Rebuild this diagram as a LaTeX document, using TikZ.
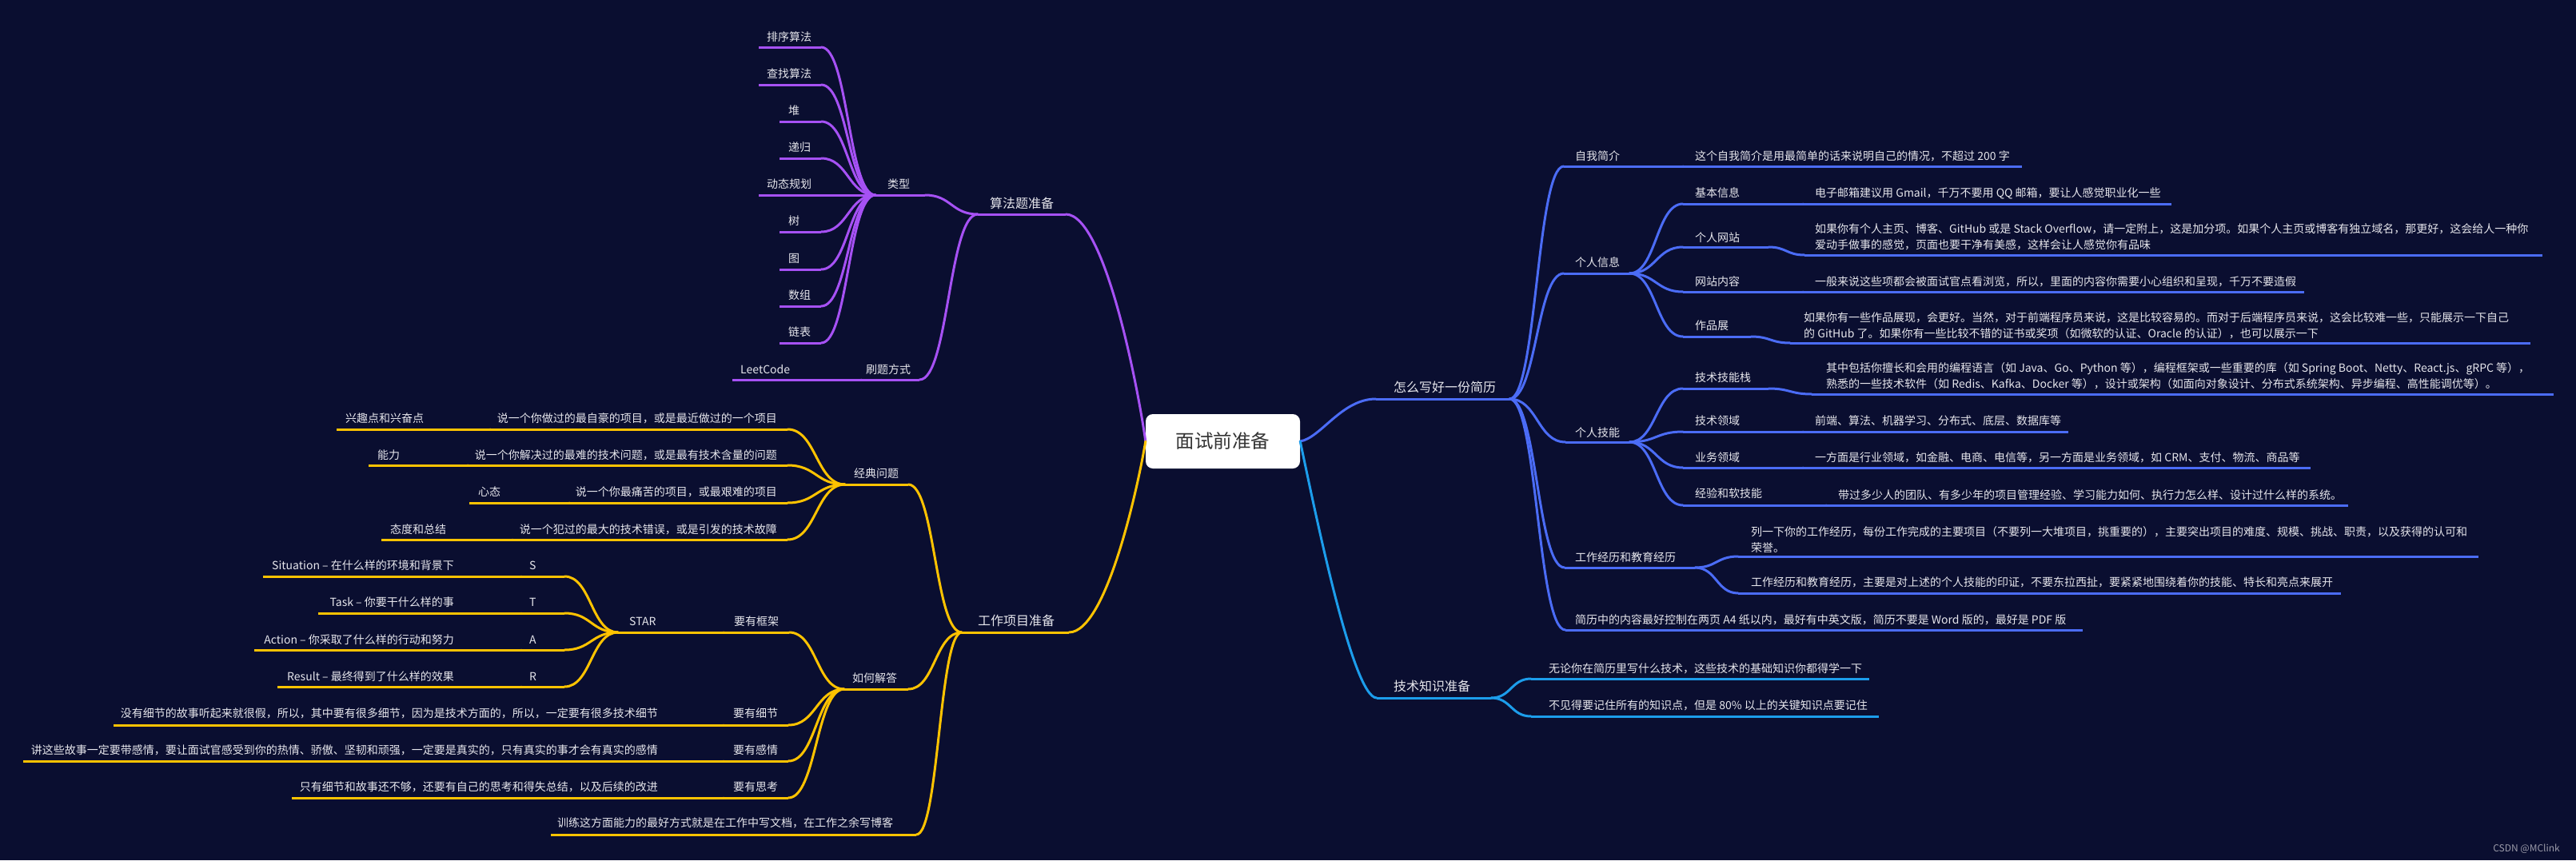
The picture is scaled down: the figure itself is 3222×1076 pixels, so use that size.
\documentclass[tikz,border=0pt]{standalone}
\usepackage{fontspec}
\setmainfont{Noto Sans CJK SC}
\usetikzlibrary{calc}
\definecolor{bgc}{HTML}{0A0E30}
\definecolor{cP}{HTML}{A651F4}
\definecolor{cY}{HTML}{FFC300}
\definecolor{cB}{HTML}{4B6CF6}
\definecolor{cC}{HTML}{1C9DEB}
\definecolor{tx}{HTML}{E6E6EC}
\definecolor{rt}{HTML}{333333}
\definecolor{wm}{HTML}{9A9AA8}
\newcommand\fsa{\fontsize{14}{20}\selectfont}
\newcommand\fsb{\fontsize{16}{20}\selectfont}
\newcommand\twol[2]{\vtop{\hbox{#1}\hbox{#2}}}
% name, colour, x1, x2, yline, xtext, ybase, text
\newcommand\TopicA[8]{%
  \node[ul,fill=#2,minimum width={(#4)-(#3)}] (#1) at ({((#3)+(#4))/2},#5) {};
  \node[lbl] (#1-t) at (#6,#7) {#8};}
\newcommand\TopicE[8]{%
  \node[ul,fill=#2,minimum width={(#4)-(#3)}] (#1) at ({((#3)+(#4))/2},#5) {};
  \node[lbl,anchor=base east] (#1-t) at (#6,#7) {#8};}
\tikzset{
  ul/.style={rectangle,inner sep=0pt,outer sep=0pt,minimum height=3pt,draw=none},
  lbl/.style={anchor=base west,inner sep=0pt,text=tx,font=\fsa},
  ln/.style={line width=3pt,line cap=round},
  cv/.style={to path={let \p1=(\tikztostart),\p2=(\tikztotarget) in
     .. controls ({0.5*\x1+0.5*\x2},\y1) and ({0.5*\x1+0.5*\x2},\y2) .. (\p2)}},
  rootbox/.style={fill=white,rounded corners=9pt,minimum width=193pt,minimum height=68pt,
     inner sep=0pt,text=rt,font=\fontsize{23.5}{28}\selectfont}
}
\begin{document}
\begin{tikzpicture}[x=1pt,y=-1pt]
\useasboundingbox (0,0) rectangle (3222,1076);
\fill[bgc] (0,0) rectangle (3222,1076);

\node[rootbox] (root) at (1529.5,552) {面试前准备};

% ---------- purple: 算法题准备
\TopicA{alg}{cP}{1223}{1333}{268}{1238}{260}{\fsb 算法题准备}
\TopicA{type}{cP}{1095}{1157}{244}{1110}{235}{类型}
\TopicA{brush}{cP}{1077}{1150}{475}{1083}{467}{刷题方式}
\TopicA{leet}{cP}{916}{1077}{475}{926}{467}{LeetCode}
\TopicA{a1}{cP}{949}{1027}{59}{959}{51}{排序算法}
\TopicA{a2}{cP}{949}{1027}{106}{959}{97}{查找算法}
\TopicA{a3}{cP}{975}{1027}{152}{986}{143}{堆}
\TopicA{a4}{cP}{975}{1027}{198}{986}{189}{递归}
\TopicA{a5}{cP}{949}{1027}{244}{959}{235}{动态规划}
\TopicA{a6}{cP}{975}{1027}{290}{986}{281}{树}
\TopicA{a7}{cP}{975}{1027}{337}{986}{328}{图}
\TopicA{a8}{cP}{975}{1027}{383}{986}{374}{数组}
\TopicA{a9}{cP}{975}{1027}{429}{986}{420}{链表}

% ---------- yellow: 工作项目准备
\TopicA{work}{cY}{1203}{1337}{791}{1223}{782}{\fsb 工作项目准备}
\TopicA{classic}{cY}{1057}{1136}{606}{1068}{597}{经典问题}
\TopicA{how}{cY}{1056}{1136}{862}{1066}{853}{如何解答}
\TopicA{train}{cY}{689}{1146}{1044}{697}{1034}{训练这方面能力的最好方式就是在工作中写文档，在工作之余写博客}
\TopicE{c1}{cY}{613}{985}{537}{972}{528}{说一个你做过的最自豪的项目，或是最近做过的一个项目}
\TopicA{c1a}{cY}{421}{613}{537}{432}{528}{兴趣点和兴奋点}
\TopicE{c2}{cY}{585}{985}{582}{972}{574}{说一个你解决过的最难的技术问题，或是最有技术含量的问题}
\TopicA{c2a}{cY}{461}{585}{582}{472}{574}{能力}
\TopicE{c3}{cY}{712}{985}{629}{972}{620}{说一个你最痛苦的项目，或最艰难的项目}
\TopicA{c3a}{cY}{587}{712}{629}{598}{620}{心态}
\TopicE{c4}{cY}{641}{985}{675}{972}{667}{说一个犯过的最大的技术错误，或是引发的技术故障}
\TopicA{c4a}{cY}{477}{641}{675}{488}{667}{态度和总结}
\TopicA{h1}{cY}{905}{987}{791}{918}{782}{要有框架}
\TopicA{star}{cY}{773}{905}{791}{787}{782}{STAR}
\TopicA{s1}{cY}{652}{706}{721}{662}{712}{S}
\TopicE{s1d}{cY}{329}{652}{721}{568}{712}{Situation – 在什么样的环境和背景下}
\TopicA{s2}{cY}{652}{706}{767}{662}{758}{T}
\TopicE{s2d}{cY}{398}{652}{767}{568}{758}{Task – 你要干什么样的事}
\TopicA{s3}{cY}{652}{706}{813}{662}{805}{A}
\TopicE{s3d}{cY}{318}{652}{813}{568}{805}{Action – 你采取了什么样的行动和努力}
\TopicA{s4}{cY}{652}{706}{859}{662}{851}{R}
\TopicE{s4d}{cY}{347}{652}{859}{568}{851}{Result – 最终得到了什么样的效果}
\TopicA{h2}{cY}{905}{986}{907}{917}{897}{要有细节}
\TopicE{h2d}{cY}{142}{905}{907}{823}{897}{没有细节的故事听起来就很假，所以，其中要有很多细节，因为是技术方面的，所以，一定要有很多技术细节}
\TopicA{h3}{cY}{905}{986}{952}{917}{943}{要有感情}
\TopicE{h3d}{cY}{29}{905}{952}{823}{943}{讲这些故事一定要带感情，要让面试官感受到你的热情、骄傲、坚韧和顽强，一定要是真实的，只有真实的事才会有真实的感情}
\TopicA{h4}{cY}{905}{986}{998}{917}{989}{要有思考}
\TopicE{h4d}{cY}{365}{905}{998}{823}{989}{只有细节和故事还不够，还要有自己的思考和得失总结，以及后续的改进}

% ---------- blue: 怎么写好一份简历
\TopicA{resume}{cB}{1721}{1888}{499}{1743}{490}{\fsb 怎么写好一份简历}
\TopicA{r1}{cB}{1956}{2105}{208}{1970}{200}{自我简介}
\TopicA{r1d}{cB}{2105}{2529}{208}{2120}{200}{这个自我简介是用最简单的话来说明自己的情况，不超过 200 字}
\TopicA{r2}{cB}{1956}{2038}{342}{1970}{333}{个人信息}
\TopicA{r2a}{cB}{2105}{2255}{255}{2120}{246}{基本信息}
\TopicA{r2ad}{cB}{2255}{2716}{255}{2270}{246}{电子邮箱建议用 Gmail，千万不要用 QQ 邮箱，要让人感觉职业化一些}
\TopicA{r2b}{cB}{2105}{2212}{309}{2120}{302}{个人网站}
\TopicA{r2bd}{cB}{2257}{3180}{319}{2270}{291}{\twol{如果你有个人主页、博客、GitHub 或是 Stack Overflow，请一定附上，这是加分项。如果个人主页或博客有独立域名，那更好，这会给人一种你}{爱动手做事的感觉，页面也要干净有美感，这样会让人感觉你有品味}}
\TopicA{r2c}{cB}{2105}{2255}{365}{2120}{357}{网站内容}
\TopicA{r2cd}{cB}{2255}{2882}{365}{2270}{357}{一般来说这些项都会被面试官点看浏览，所以，里面的内容你需要小心组织和呈现，千万不要造假}
\TopicA{r2d}{cB}{2105}{2190}{421}{2120}{412}{作品展}
\TopicA{r2dd}{cB}{2239}{3165}{429}{2256}{402}{\twol{如果你有一些作品展现，会更好。当然，对于前端程序员来说，这是比较容易的。而对于后端程序员来说，这会比较难一些，只能展示一下自己}{的 GitHub 了。如果你有一些比较不错的证书或奖项（如微软的认证、Oracle 的认证），也可以展示一下}}
\TopicA{r3}{cB}{1958}{2038}{553}{1970}{546}{个人技能}
\TopicA{r3a}{cB}{2105}{2212}{486}{2120}{477}{技术技能栈}
\TopicA{r3ad}{cB}{2266}{3194}{493}{2284}{465}{\twol{其中包括你擅长和会用的编程语言（如 Java、Go、Python 等），编程框架或一些重要的库（如 Spring Boot、Netty、React.js、gRPC 等），}{熟悉的一些技术软件（如 Redis、Kafka、Docker 等），设计或架构（如面向对象设计、分布式系统架构、异步编程、高性能调优等）。}}
\TopicA{r3b}{cB}{2105}{2255}{540}{2120}{531}{技术领域}
\TopicA{r3bd}{cB}{2255}{2587}{540}{2270}{531}{前端、算法、机器学习、分布式、底层、数据库等}
\TopicA{r3c}{cB}{2105}{2255}{585}{2120}{577}{业务领域}
\TopicA{r3cd}{cB}{2255}{2890}{585}{2270}{577}{一方面是行业领域，如金融、电商、电信等，另一方面是业务领域，如 CRM、支付、物流、商品等}
\TopicA{r3d}{cB}{2105}{2284}{632}{2120}{622}{经验和软技能}
\TopicA{r3dd}{cB}{2284}{2937}{632}{2299}{624}{带过多少人的团队、有多少年的项目管理经验、学习能力如何、执行力怎么样、设计过什么样的系统。}
\TopicA{r4}{cB}{1957}{2120}{710}{1970}{702}{工作经历和教育经历}
\TopicA{r4a}{cB}{2174}{3100}{696}{2190}{670}{\twol{列一下你的工作经历，每份工作完成的主要项目（不要列一大堆项目，挑重要的），主要突出项目的难度、规模、挑战、职责，以及获得的认可和}{荣誉。}}
\TopicA{r4b}{cB}{2174}{2928}{742}{2190}{733}{工作经历和教育经历，主要是对上述的个人技能的印证，不要东拉西扯，要紧紧地围绕着你的技能、特长和亮点来展开}
\TopicA{r5}{cB}{1958}{2605}{788}{1970}{780}{简历中的内容最好控制在两页 A4 纸以内，最好有中英文版，简历不要是 Word 版的，最好是 PDF 版}

% ---------- cyan: 技术知识准备
\TopicA{tech}{cC}{1722}{1865}{873}{1743}{864}{\fsb 技术知识准备}
\TopicA{t1}{cC}{1915}{2338}{849}{1937}{841}{无论你在简历里写什么技术，这些技术的基础知识你都得学一下}
\TopicA{t2}{cC}{1915}{2350}{896}{1937}{887}{不见得要记住所有的知识点，但是 80\% 以上的关键知识点要记住}

\node[anchor=base east,inner sep=0pt,text=wm,font=\fontsize{12}{14}\selectfont] (wmk) at (3202,1065) {CSDN @MClink};

% ---------- connectors
\begin{scope}[ln,cP]
\draw (alg.east) .. controls (1383,268) and (1425,495) .. (root.west);
\draw (alg.west) to[cv] (type.east);
\draw (alg.west) to[cv] (brush.east);
\draw (brush.west) -- (leet.east);
\foreach \k in {a1,a2,a3,a4,a5,a6,a7,a8,a9} {\draw (type.west) to[cv] (\k.east);}
\end{scope}

\begin{scope}[ln,cY]
\draw (work.east) .. controls (1385,791) and (1425,600) .. (root.west);
\foreach \k in {classic,how,train} {\draw (work.west) to[cv] (\k.east);}
\foreach \k in {c1,c2,c3,c4} {\draw (classic.west) to[cv] (\k.east);}
\foreach \k in {c1,c2,c3,c4} {\draw (\k.west) -- (\k a.east);}
\foreach \k in {h1,h2,h3,h4} {\draw (how.west) to[cv] (\k.east);}
\draw (h1.west) -- (star.east);
\foreach \k in {s1,s2,s3,s4} {\draw (star.west) to[cv] (\k.east);}
\foreach \k in {s1,s2,s3,s4} {\draw (\k.west) -- (\k d.east);}
\foreach \k in {h2,h3,h4} {\draw (\k.west) -- (\k d.east);}
\end{scope}

\begin{scope}[ln,cB]
\draw (root.east) .. controls (1652,548) and (1678,499) .. (resume.west);
\foreach \k in {r1,r2,r3,r4,r5} {\draw (resume.east) to[cv] (\k.west);}
\draw (r1.east) -- (r1d.west);
\foreach \k in {r2a,r2b,r2c,r2d} {\draw (r2.east) to[cv] (\k.west);}
\foreach \k in {r2a,r2b,r2c,r2d} {\draw (\k.east) to[cv] (\k d.west);}
\foreach \k in {r3a,r3b,r3c,r3d} {\draw (r3.east) to[cv] (\k.west);}
\foreach \k in {r3a,r3b,r3c,r3d} {\draw (\k.east) to[cv] (\k d.west);}
\foreach \k in {r4a,r4b} {\draw (r4.east) to[cv] (\k.west);}
\end{scope}

\begin{scope}[ln,cC]
\draw (root.east) .. controls (1645,640) and (1692,873) .. (tech.west);
\foreach \k in {t1,t2} {\draw (tech.east) to[cv] (\k.west);}
\end{scope}
\end{tikzpicture}
\end{document}
